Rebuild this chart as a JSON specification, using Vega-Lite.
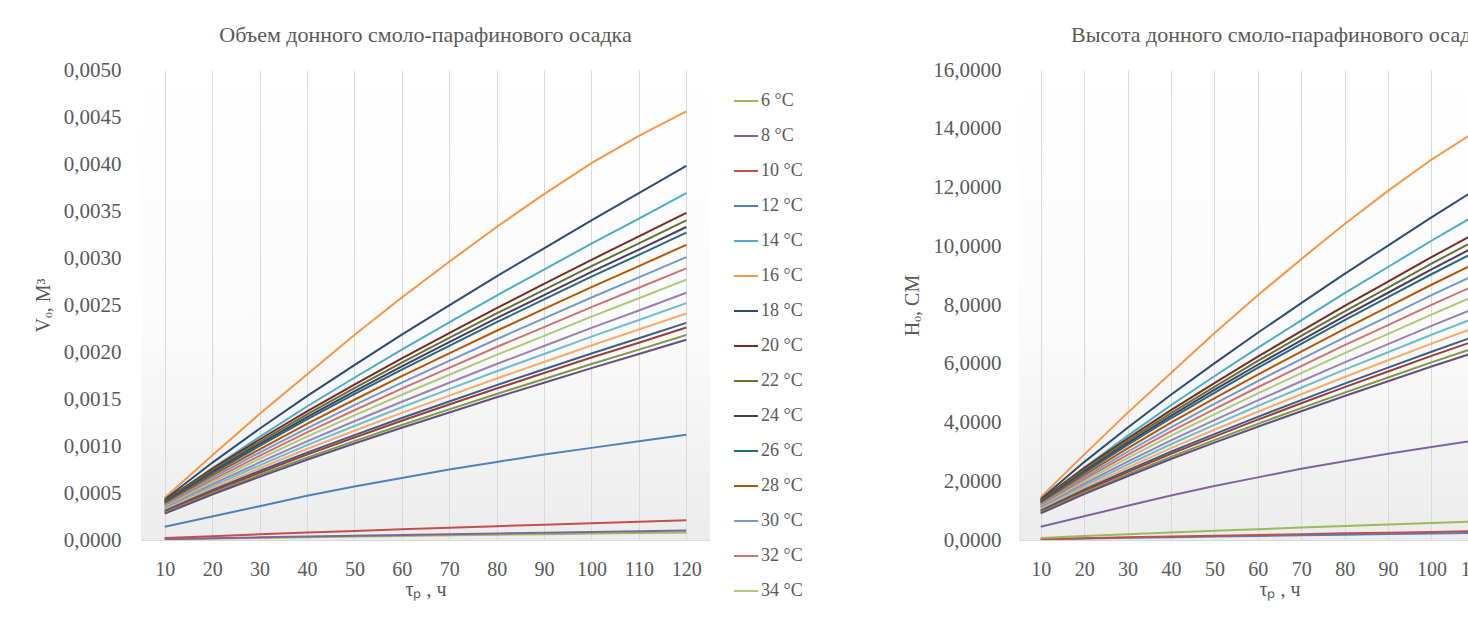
{
"$schema": "https://vega.github.io/schema/vega-lite/v6.json",
"background": "white",
"padding": {"left": 33, "top": 24, "right": 0, "bottom": 5},
"config": {
  "locale": {"number": {"decimal": ",", "thousands": " ", "grouping": [3], "currency": ["", ""]}},
  "font": "Liberation Serif",
  "view": {"stroke": null},
  "axis": {"labelFont": "Liberation Serif", "titleFont": "Liberation Serif", "labelColor": "#595959", "titleColor": "#595959", "labelFontSize": 20, "titleFontSize": 20, "titleFontWeight": "normal", "ticks": false},
  "title": {"font": "Liberation Serif", "fontSize": 22, "fontWeight": "normal", "color": "#595959", "anchor": "middle", "frame": "group", "offset": 12},
  "line": {"strokeWidth": 2}
},
"data": {"values": [
{"T":"6 °C","t":10,"V":0.000007,"H":0.023},{"T":"6 °C","t":20,"V":0.000015,"H":0.048},{"T":"6 °C","t":30,"V":0.0000225,"H":0.073},{"T":"6 °C","t":40,"V":0.0000296,"H":0.096},{"T":"6 °C","t":50,"V":0.0000364,"H":0.118},{"T":"6 °C","t":60,"V":0.0000431,"H":0.139},{"T":"6 °C","t":70,"V":0.0000495,"H":0.160},{"T":"6 °C","t":80,"V":0.0000558,"H":0.180},{"T":"6 °C","t":90,"V":0.000062,"H":0.200},{"T":"6 °C","t":100,"V":0.0000681,"H":0.220},{"T":"6 °C","t":110,"V":0.000074,"H":0.239},{"T":"6 °C","t":120,"V":0.00008,"H":0.258},
{"T":"8 °C","t":10,"V":0.000009,"H":0.029},{"T":"8 °C","t":20,"V":0.000019,"H":0.061},{"T":"8 °C","t":30,"V":0.0000283,"H":0.091},{"T":"8 °C","t":40,"V":0.0000372,"H":0.120},{"T":"8 °C","t":50,"V":0.0000457,"H":0.148},{"T":"8 °C","t":60,"V":0.000054,"H":0.174},{"T":"8 °C","t":70,"V":0.000062,"H":0.200},{"T":"8 °C","t":80,"V":0.0000699,"H":0.226},{"T":"8 °C","t":90,"V":0.0000775,"H":0.250},{"T":"8 °C","t":100,"V":0.0000852,"H":0.275},{"T":"8 °C","t":110,"V":0.0000925,"H":0.299},{"T":"8 °C","t":120,"V":0.0001,"H":0.323},
{"T":"10 °C","t":10,"V":0.00002,"H":0.065},{"T":"10 °C","t":20,"V":0.0000409,"H":0.132},{"T":"10 °C","t":30,"V":0.0000603,"H":0.195},{"T":"10 °C","t":40,"V":0.0000789,"H":0.255},{"T":"10 °C","t":50,"V":0.0000966,"H":0.312},{"T":"10 °C","t":60,"V":0.0001139,"H":0.368},{"T":"10 °C","t":70,"V":0.0001306,"H":0.422},{"T":"10 °C","t":80,"V":0.0001471,"H":0.475},{"T":"10 °C","t":90,"V":0.0001631,"H":0.527},{"T":"10 °C","t":100,"V":0.000179,"H":0.578},{"T":"10 °C","t":110,"V":0.0001944,"H":0.628},{"T":"10 °C","t":120,"V":0.00021,"H":0.678},
{"T":"12 °C","t":10,"V":0.00014,"H":0.452},{"T":"12 °C","t":20,"V":0.00025,"H":0.808},{"T":"12 °C","t":30,"V":0.00036,"H":1.163},{"T":"12 °C","t":40,"V":0.00047,"H":1.518},{"T":"12 °C","t":50,"V":0.00057,"H":1.841},{"T":"12 °C","t":60,"V":0.00066,"H":2.132},{"T":"12 °C","t":70,"V":0.00075,"H":2.423},{"T":"12 °C","t":80,"V":0.00083,"H":2.681},{"T":"12 °C","t":90,"V":0.00091,"H":2.939},{"T":"12 °C","t":100,"V":0.00098,"H":3.165},{"T":"12 °C","t":110,"V":0.00105,"H":3.392},{"T":"12 °C","t":120,"V":0.00112,"H":3.618},
{"T":"14 °C","t":10,"V":0.0004,"H":1.292},{"T":"14 °C","t":20,"V":0.000762,"H":2.461},{"T":"14 °C","t":30,"V":0.001097,"H":3.543},{"T":"14 °C","t":40,"V":0.00142,"H":4.587},{"T":"14 °C","t":50,"V":0.001726,"H":5.575},{"T":"14 °C","t":60,"V":0.002025,"H":6.541},{"T":"14 °C","t":70,"V":0.002315,"H":7.477},{"T":"14 °C","t":80,"V":0.002601,"H":8.401},{"T":"14 °C","t":90,"V":0.002877,"H":9.293},{"T":"14 °C","t":100,"V":0.003154,"H":10.187},{"T":"14 °C","t":110,"V":0.00342,"H":11.047},{"T":"14 °C","t":120,"V":0.00369,"H":11.919},
{"T":"16 °C","t":10,"V":0.00045,"H":1.454},{"T":"16 °C","t":20,"V":0.0009,"H":2.907},{"T":"16 °C","t":30,"V":0.00134,"H":4.328},{"T":"16 °C","t":40,"V":0.00176,"H":5.685},{"T":"16 °C","t":50,"V":0.00218,"H":7.041},{"T":"16 °C","t":60,"V":0.00258,"H":8.333},{"T":"16 °C","t":70,"V":0.00296,"H":9.561},{"T":"16 °C","t":80,"V":0.00333,"H":10.756},{"T":"16 °C","t":90,"V":0.00368,"H":11.886},{"T":"16 °C","t":100,"V":0.00401,"H":12.952},{"T":"16 °C","t":110,"V":0.0043,"H":13.889},{"T":"16 °C","t":120,"V":0.00456,"H":14.729},
{"T":"18 °C","t":10,"V":0.00043,"H":1.389},{"T":"18 °C","t":20,"V":0.000821,"H":2.652},{"T":"18 °C","t":30,"V":0.001183,"H":3.821},{"T":"18 °C","t":40,"V":0.001531,"H":4.945},{"T":"18 °C","t":50,"V":0.001861,"H":6.011},{"T":"18 °C","t":60,"V":0.002184,"H":7.054},{"T":"18 °C","t":70,"V":0.002496,"H":8.062},{"T":"18 °C","t":80,"V":0.002805,"H":9.060},{"T":"18 °C","t":90,"V":0.003103,"H":10.023},{"T":"18 °C","t":100,"V":0.003401,"H":10.985},{"T":"18 °C","t":110,"V":0.003689,"H":11.915},{"T":"18 °C","t":120,"V":0.00398,"H":12.855},
{"T":"20 °C","t":10,"V":0.00042,"H":1.357},{"T":"20 °C","t":20,"V":0.000757,"H":2.445},{"T":"20 °C","t":30,"V":0.001069,"H":3.453},{"T":"20 °C","t":40,"V":0.001369,"H":4.422},{"T":"20 °C","t":50,"V":0.001653,"H":5.339},{"T":"20 °C","t":60,"V":0.001932,"H":6.240},{"T":"20 °C","t":70,"V":0.002201,"H":7.109},{"T":"20 °C","t":80,"V":0.002467,"H":7.968},{"T":"20 °C","t":90,"V":0.002724,"H":8.799},{"T":"20 °C","t":100,"V":0.002981,"H":9.629},{"T":"20 °C","t":110,"V":0.003229,"H":10.430},{"T":"20 °C","t":120,"V":0.00348,"H":11.240},
{"T":"22 °C","t":10,"V":0.00041,"H":1.324},{"T":"22 °C","t":20,"V":0.000739,"H":2.387},{"T":"22 °C","t":30,"V":0.001044,"H":3.372},{"T":"22 °C","t":40,"V":0.001337,"H":4.319},{"T":"22 °C","t":50,"V":0.001615,"H":5.216},{"T":"22 °C","t":60,"V":0.001887,"H":6.095},{"T":"22 °C","t":70,"V":0.00215,"H":6.945},{"T":"22 °C","t":80,"V":0.00241,"H":7.784},{"T":"22 °C","t":90,"V":0.002661,"H":8.595},{"T":"22 °C","t":100,"V":0.002913,"H":9.409},{"T":"22 °C","t":110,"V":0.003155,"H":10.191},{"T":"22 °C","t":120,"V":0.0034,"H":10.982},
{"T":"24 °C","t":10,"V":0.0004,"H":1.292},{"T":"24 °C","t":20,"V":0.000722,"H":2.332},{"T":"24 °C","t":30,"V":0.001021,"H":3.298},{"T":"24 °C","t":40,"V":0.001308,"H":4.225},{"T":"24 °C","t":50,"V":0.001581,"H":5.107},{"T":"24 °C","t":60,"V":0.001847,"H":5.966},{"T":"24 °C","t":70,"V":0.002105,"H":6.799},{"T":"24 °C","t":80,"V":0.00236,"H":7.623},{"T":"24 °C","t":90,"V":0.002606,"H":8.417},{"T":"24 °C","t":100,"V":0.002852,"H":9.212},{"T":"24 °C","t":110,"V":0.00309,"H":9.981},{"T":"24 °C","t":120,"V":0.00333,"H":10.756},
{"T":"26 °C","t":10,"V":0.00039,"H":1.260},{"T":"26 °C","t":20,"V":0.000707,"H":2.284},{"T":"26 °C","t":30,"V":0.001001,"H":3.233},{"T":"26 °C","t":40,"V":0.001283,"H":4.144},{"T":"26 °C","t":50,"V":0.001551,"H":5.010},{"T":"26 °C","t":60,"V":0.001813,"H":5.856},{"T":"26 °C","t":70,"V":0.002066,"H":6.673},{"T":"26 °C","t":80,"V":0.002317,"H":7.484},{"T":"26 °C","t":90,"V":0.002559,"H":8.266},{"T":"26 °C","t":100,"V":0.002801,"H":9.047},{"T":"26 °C","t":110,"V":0.003034,"H":9.800},{"T":"26 °C","t":120,"V":0.00327,"H":10.562},
{"T":"28 °C","t":10,"V":0.00038,"H":1.227},{"T":"28 °C","t":20,"V":0.000684,"H":2.209},{"T":"28 °C","t":30,"V":0.000965,"H":3.117},{"T":"28 °C","t":40,"V":0.001236,"H":3.992},{"T":"28 °C","t":50,"V":0.001492,"H":4.819},{"T":"28 °C","t":60,"V":0.001743,"H":5.630},{"T":"28 °C","t":70,"V":0.001986,"H":6.415},{"T":"28 °C","t":80,"V":0.002226,"H":7.190},{"T":"28 °C","t":90,"V":0.002458,"H":7.939},{"T":"28 °C","t":100,"V":0.00269,"H":8.689},{"T":"28 °C","t":110,"V":0.002914,"H":9.412},{"T":"28 °C","t":120,"V":0.00314,"H":10.142},
{"T":"30 °C","t":10,"V":0.00037,"H":1.195},{"T":"30 °C","t":20,"V":0.00066,"H":2.132},{"T":"30 °C","t":30,"V":0.00093,"H":3.004},{"T":"30 °C","t":40,"V":0.001188,"H":3.837},{"T":"30 °C","t":50,"V":0.001434,"H":4.632},{"T":"30 °C","t":60,"V":0.001674,"H":5.407},{"T":"30 °C","t":70,"V":0.001906,"H":6.156},{"T":"30 °C","t":80,"V":0.002136,"H":6.899},{"T":"30 °C","t":90,"V":0.002358,"H":7.616},{"T":"30 °C","t":100,"V":0.00258,"H":8.333},{"T":"30 °C","t":110,"V":0.002794,"H":9.025},{"T":"30 °C","t":120,"V":0.00301,"H":9.722},
{"T":"32 °C","t":10,"V":0.00036,"H":1.163},{"T":"32 °C","t":20,"V":0.000638,"H":2.061},{"T":"32 °C","t":30,"V":0.000896,"H":2.894},{"T":"32 °C","t":40,"V":0.001144,"H":3.695},{"T":"32 °C","t":50,"V":0.00138,"H":4.457},{"T":"32 °C","t":60,"V":0.00161,"H":5.200},{"T":"32 °C","t":70,"V":0.001832,"H":5.917},{"T":"32 °C","t":80,"V":0.002053,"H":6.631},{"T":"32 °C","t":90,"V":0.002265,"H":7.316},{"T":"32 °C","t":100,"V":0.002478,"H":8.004},{"T":"32 °C","t":110,"V":0.002683,"H":8.666},{"T":"32 °C","t":120,"V":0.00289,"H":9.335},
{"T":"34 °C","t":10,"V":0.00035,"H":1.131},{"T":"34 °C","t":20,"V":0.000616,"H":1.990},{"T":"34 °C","t":30,"V":0.000863,"H":2.787},{"T":"34 °C","t":40,"V":0.0011,"H":3.553},{"T":"34 °C","t":50,"V":0.001325,"H":4.280},{"T":"34 °C","t":60,"V":0.001545,"H":4.990},{"T":"34 °C","t":70,"V":0.001758,"H":5.678},{"T":"34 °C","t":80,"V":0.001969,"H":6.360},{"T":"34 °C","t":90,"V":0.002172,"H":7.016},{"T":"34 °C","t":100,"V":0.002376,"H":7.674},{"T":"34 °C","t":110,"V":0.002572,"H":8.308},{"T":"34 °C","t":120,"V":0.00277,"H":8.947},
{"T":"36 °C","t":10,"V":0.00034,"H":1.098},{"T":"36 °C","t":20,"V":0.000592,"H":1.912},{"T":"36 °C","t":30,"V":0.000825,"H":2.665},{"T":"36 °C","t":40,"V":0.00105,"H":3.392},{"T":"36 °C","t":50,"V":0.001263,"H":4.079},{"T":"36 °C","t":60,"V":0.001471,"H":4.751},{"T":"36 °C","t":70,"V":0.001673,"H":5.404},{"T":"36 °C","t":80,"V":0.001872,"H":6.047},{"T":"36 °C","t":90,"V":0.002064,"H":6.667},{"T":"36 °C","t":100,"V":0.002257,"H":7.290},{"T":"36 °C","t":110,"V":0.002442,"H":7.888},{"T":"36 °C","t":120,"V":0.00263,"H":8.495},
{"T":"38 °C","t":10,"V":0.00033,"H":1.066},{"T":"38 °C","t":20,"V":0.000571,"H":1.844},{"T":"38 °C","t":30,"V":0.000794,"H":2.565},{"T":"38 °C","t":40,"V":0.001009,"H":3.259},{"T":"38 °C","t":50,"V":0.001213,"H":3.918},{"T":"38 °C","t":60,"V":0.001412,"H":4.561},{"T":"38 °C","t":70,"V":0.001605,"H":5.184},{"T":"38 °C","t":80,"V":0.001795,"H":5.798},{"T":"38 °C","t":90,"V":0.001979,"H":6.392},{"T":"38 °C","t":100,"V":0.002163,"H":6.986},{"T":"38 °C","t":110,"V":0.00234,"H":7.558},{"T":"38 °C","t":120,"V":0.00252,"H":8.140},
{"T":"40 °C","t":10,"V":0.00032,"H":1.034},{"T":"40 °C","t":20,"V":0.00055,"H":1.777},{"T":"40 °C","t":30,"V":0.000763,"H":2.464},{"T":"40 °C","t":40,"V":0.000968,"H":3.127},{"T":"40 °C","t":50,"V":0.001162,"H":3.753},{"T":"40 °C","t":60,"V":0.001352,"H":4.367},{"T":"40 °C","t":70,"V":0.001536,"H":4.961},{"T":"40 °C","t":80,"V":0.001718,"H":5.549},{"T":"40 °C","t":90,"V":0.001894,"H":6.118},{"T":"40 °C","t":100,"V":0.002069,"H":6.683},{"T":"40 °C","t":110,"V":0.002239,"H":7.232},{"T":"40 °C","t":120,"V":0.00241,"H":7.784},
{"T":"42 °C","t":10,"V":0.00031,"H":1.001},{"T":"42 °C","t":20,"V":0.00053,"H":1.712},{"T":"42 °C","t":30,"V":0.000734,"H":2.371},{"T":"42 °C","t":40,"V":0.00093,"H":3.004},{"T":"42 °C","t":50,"V":0.001116,"H":3.605},{"T":"42 °C","t":60,"V":0.001298,"H":4.193},{"T":"42 °C","t":70,"V":0.001474,"H":4.761},{"T":"42 °C","t":80,"V":0.001648,"H":5.323},{"T":"42 °C","t":90,"V":0.001816,"H":5.866},{"T":"42 °C","t":100,"V":0.001984,"H":6.408},{"T":"42 °C","t":110,"V":0.002146,"H":6.932},{"T":"42 °C","t":120,"V":0.00231,"H":7.461},
{"T":"44 °C","t":10,"V":0.0003,"H":0.969},{"T":"44 °C","t":20,"V":0.000516,"H":1.667},{"T":"44 °C","t":30,"V":0.000716,"H":2.313},{"T":"44 °C","t":40,"V":0.000908,"H":2.933},{"T":"44 °C","t":50,"V":0.00109,"H":3.521},{"T":"44 °C","t":60,"V":0.001268,"H":4.096},{"T":"44 °C","t":70,"V":0.001441,"H":4.654},{"T":"44 °C","t":80,"V":0.001611,"H":5.204},{"T":"44 °C","t":90,"V":0.001776,"H":5.736},{"T":"44 °C","t":100,"V":0.001941,"H":6.269},{"T":"44 °C","t":110,"V":0.002099,"H":6.780},{"T":"44 °C","t":120,"V":0.00226,"H":7.300},
{"T":"46 °C","t":10,"V":0.00029,"H":0.937},{"T":"46 °C","t":20,"V":0.000498,"H":1.609},{"T":"46 °C","t":30,"V":0.000691,"H":2.232},{"T":"46 °C","t":40,"V":0.000876,"H":2.829},{"T":"46 °C","t":50,"V":0.001052,"H":3.398},{"T":"46 °C","t":60,"V":0.001224,"H":3.954},{"T":"46 °C","t":70,"V":0.00139,"H":4.490},{"T":"46 °C","t":80,"V":0.001554,"H":5.019},{"T":"46 °C","t":90,"V":0.001713,"H":5.533},{"T":"46 °C","t":100,"V":0.001872,"H":6.047},{"T":"46 °C","t":110,"V":0.002025,"H":6.541},{"T":"46 °C","t":120,"V":0.00218,"H":7.041},
{"T":"48 °C","t":10,"V":0.00028,"H":0.904},{"T":"48 °C","t":20,"V":0.000484,"H":1.563},{"T":"48 °C","t":30,"V":0.000672,"H":2.171},{"T":"48 °C","t":40,"V":0.000854,"H":2.758},{"T":"48 °C","t":50,"V":0.001026,"H":3.314},{"T":"48 °C","t":60,"V":0.001194,"H":3.857},{"T":"48 °C","t":70,"V":0.001357,"H":4.383},{"T":"48 °C","t":80,"V":0.001518,"H":4.903},{"T":"48 °C","t":90,"V":0.001673,"H":5.404},{"T":"48 °C","t":100,"V":0.001828,"H":5.904},{"T":"48 °C","t":110,"V":0.001978,"H":6.389},{"T":"48 °C","t":120,"V":0.00213,"H":6.880}
]},
"bounds": "flush",
"spacing": 309,
"resolve": {"scale": {"color": "independent", "y": "independent", "x": "independent"}},
"hconcat": [
 {
  "width": 569, "height": 470,
  "title": {"text": "Объем донного смоло-парафинового осадка"},
  "view": {"stroke": null, "fill": {"gradient": "linear", "x1": 0, "y1": 0, "x2": 0, "y2": 1, "stops": [{"offset": 0, "color": "#ffffff"}, {"offset": 0.55, "color": "#fbfbfb"}, {"offset": 1, "color": "#ececec"}]}},
  "mark": {"type": "line", "strokeWidth": 2, "clip": true},
  "encoding": {
   "x": {"field": "t", "type": "quantitative", "scale": {"domain": [5, 125], "nice": false},
         "axis": {"values": [10,20,30,40,50,60,70,80,90,100,110,120], "title": "τₚ , ч", "grid": true, "gridColor": "#D9D9D9", "domainColor": "#D9D9D9", "labelPadding": 19, "titlePadding": 0}},
   "y": {"field": "V", "type": "quantitative", "scale": {"domain": [0, 0.005], "nice": false},
         "axis": {"values": [0,0.0005,0.001,0.0015,0.002,0.0025,0.003,0.0035,0.004,0.0045,0.005], "format": ".4f", "grid": false, "domain": false, "title": "Vₒ, М³", "labelFontSize": 21, "labelPadding": 20, "titlePadding": 10}},
   "color": {"field": "T", "type": "nominal",
     "scale": {"domain": ["6 °C","8 °C","10 °C","12 °C","14 °C","16 °C","18 °C","20 °C","22 °C","24 °C","26 °C","28 °C","30 °C","32 °C","34 °C","36 °C","38 °C","40 °C","42 °C","44 °C","46 °C","48 °C"],
               "range": ["#9BBB59","#8064A2","#C0504D","#4F81BD","#4BACC6","#F79646","#2C4D75","#772C2A","#5F7530","#4D3B62","#276A7C","#B65708","#729ACA","#CD7371","#AFC97A","#9983B5","#6FBDD1","#F9AB6B","#3A5F8B","#9A3E3C","#7D9B46","#654F82"]},
     "legend": {"orient": "none", "legendX": 592, "legendY": 18, "title": null,
       "values": ["6 °C","8 °C","10 °C","12 °C","14 °C","16 °C","18 °C","20 °C","22 °C","24 °C","26 °C","28 °C","30 °C","32 °C","34 °C"],
       "symbolType": "stroke", "symbolSize": 576, "symbolStrokeWidth": 2.5, "labelFont": "Liberation Serif", "labelFontSize": 18, "labelColor": "#595959", "rowPadding": 13, "labelOffset": 2}}
  }
 },
 {
  "width": 521, "height": 470,
  "title": {"text": "Высота донного смоло-парафинового осадка", "anchor": "start", "dx": 52},
  "view": {"stroke": null, "fill": {"gradient": "linear", "x1": 0, "y1": 0, "x2": 0, "y2": 1, "stops": [{"offset": 0, "color": "#ffffff"}, {"offset": 0.55, "color": "#fbfbfb"}, {"offset": 1, "color": "#ececec"}]}},
  "mark": {"type": "line", "strokeWidth": 2, "clip": true},
  "encoding": {
   "x": {"field": "t", "type": "quantitative", "scale": {"domain": [5, 125], "nice": false},
         "axis": {"values": [10,20,30,40,50,60,70,80,90,100,110,120], "title": "τₚ , ч", "grid": true, "gridColor": "#D9D9D9", "domainColor": "#D9D9D9", "labelPadding": 19, "titlePadding": 0}},
   "y": {"field": "H", "type": "quantitative", "scale": {"domain": [0, 16], "nice": false},
         "axis": {"values": [0,2,4,6,8,10,12,14,16], "format": ".4f", "grid": false, "domain": false, "title": "Hₒ, СМ", "labelFontSize": 21, "labelPadding": 18, "titlePadding": 10}},
   "color": {"field": "T", "type": "nominal",
     "scale": {"domain": ["6 °C","8 °C","10 °C","12 °C","14 °C","16 °C","18 °C","20 °C","22 °C","24 °C","26 °C","28 °C","30 °C","32 °C","34 °C","36 °C","38 °C","40 °C","42 °C","44 °C","46 °C","48 °C"],
               "range": ["#4F81BD","#C0504D","#9BBB59","#8064A2","#4BACC6","#F79646","#2C4D75","#772C2A","#5F7530","#4D3B62","#276A7C","#B65708","#729ACA","#CD7371","#AFC97A","#9983B5","#6FBDD1","#F9AB6B","#3A5F8B","#9A3E3C","#7D9B46","#654F82"]},
     "legend": null}
  }
 }
]
}
